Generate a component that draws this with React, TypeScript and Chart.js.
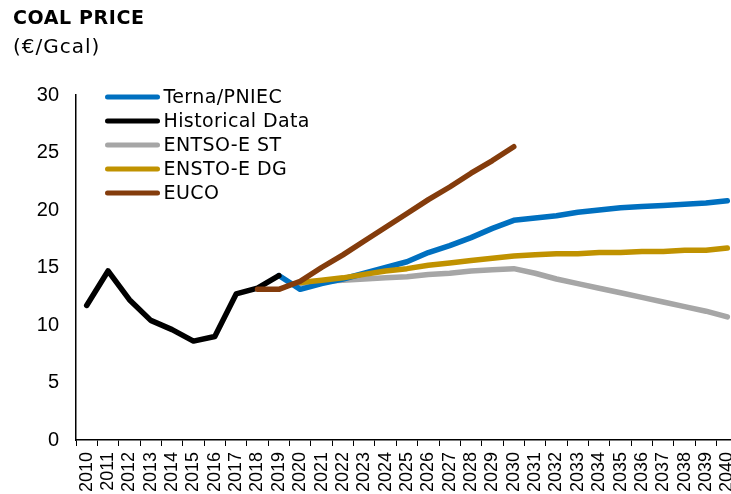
import React, { useEffect, useRef } from "react";
import { Chart, registerables } from "chart.js";

Chart.register(...registerables);

// Years on the category axis
const years = [
  "2010", "2011", "2012", "2013", "2014", "2015", "2016", "2017", "2018", "2019",
  "2020", "2021", "2022", "2023", "2024", "2025", "2026", "2027", "2028", "2029",
  "2030", "2031", "2032", "2033", "2034", "2035", "2036", "2037", "2038", "2039",
  "2040",
];

// Coal price series, €/Gcal (null = no value for that year)
const historical = [11.7, 14.7, 12.2, 10.4, 9.6, 8.6, 9.0, 12.7, 13.2, 14.3,
  null, null, null, null, null, null, null, null, null, null,
  null, null, null, null, null, null, null, null, null, null, null];

const ternaPniec = [null, null, null, null, null, null, null, null, null, 14.3,
  13.1, 13.6, 14.0, 14.5, 15.0, 15.5, 16.3, 16.9, 17.6, 18.4,
  19.1, 19.3, 19.5, 19.8, 20.0, 20.2, 20.3, 20.4, 20.5, 20.6, 20.8];

const entsoeSt = [null, null, null, null, null, null, null, null, null, null,
  13.6, 13.8, 13.9, 14.0, 14.1, 14.2, 14.4, 14.5, 14.7, 14.8,
  14.9, 14.5, 14.0, 13.6, 13.2, 12.8, 12.4, 12.0, 11.6, 11.2, 10.7];

const enstoeDg = [null, null, null, null, null, null, null, null, null, null,
  13.7, 13.9, 14.1, 14.4, 14.7, 14.9, 15.2, 15.4, 15.6, 15.8,
  16.0, 16.1, 16.2, 16.2, 16.3, 16.3, 16.4, 16.4, 16.5, 16.5, 16.7];

const euco = [null, null, null, null, null, null, null, null, 13.1, 13.1,
  13.8, 15.0, 16.1, 17.3, 18.5, 19.7, 20.9, 22.0, 23.2, 24.3,
  25.5, null, null, null, null, null, null, null, null, null, null];

const yTicks = [0, 5, 10, 15, 20, 25, 30];

const FONT = "'DejaVu Sans', sans-serif";
const TICK_FONT = "'Liberation Sans', Arial, sans-serif";

// Legend drawn inside the plot area, top-left, in dataset order
const insideLegend = {
  id: "insideLegend",
  afterDatasetsDraw(chart: any) {
    const { ctx, chartArea } = chart;
    const x0 = chartArea.left + 31.5;
    const x1 = chartArea.left + 81.5;
    ctx.save();
    ctx.font = `19px ${FONT}`;
    (ctx as any).letterSpacing = "0.4px";
    ctx.textBaseline = "middle";
    ctx.textAlign = "left";
    chart.data.datasets.forEach((ds: any, i: number) => {
      const y = chartArea.top + 2 + i * 24;
      ctx.strokeStyle = ds.borderColor;
      ctx.lineWidth = 5;
      ctx.lineCap = "round";
      ctx.beginPath();
      ctx.moveTo(x0, y);
      ctx.lineTo(x1, y);
      ctx.stroke();
      ctx.fillStyle = "#000";
      ctx.fillText(ds.label, x1 + 6, y + 1);
    });
    ctx.restore();
  },
};

export default function App() {
  const canvasRef = useRef<HTMLCanvasElement | null>(null);

  useEffect(() => {
    const canvas = canvasRef.current;
    if (!canvas) return;
    const line = (label: string, data: (number | null)[], color: string, order: number) => ({
      label,
      data,
      borderColor: color,
      backgroundColor: color,
      borderWidth: 5.5,
      borderCapStyle: "round",
      borderJoinStyle: "round",
      pointRadius: 0,
      pointHoverRadius: 0,
      tension: 0,
      fill: false,
      order,
    });
    const chart = new Chart(canvas, {
      type: "line",
      data: {
        labels: years,
        datasets: [
          line("Terna/PNIEC", ternaPniec, "#0070C0", 3),
          line("Historical Data", historical, "#000000", 2),
          line("ENTSO-E ST", entsoeSt, "#A6A6A6", 4),
          line("ENSTO-E DG", enstoeDg, "#C09200", 1),
          line("EUCO", euco, "#843C0C", 0),
        ] as any,
      },
      options: {
        responsive: false,
        animation: false,
        layout: { padding: { top: 95, right: 12, left: 0, bottom: 0 } },
        plugins: {
          legend: { display: false },
          tooltip: { enabled: false },
          title: { display: false },
        },
        scales: {
          x: {
            offset: true,
            grid: {
              display: true,
              drawOnChartArea: false,
              drawTicks: true,
              tickLength: 6,
              tickColor: "#000",
              offset: true,
            },
            border: { display: true, color: "#000", width: 1.5 },
            ticks: {
              color: "#000",
              font: { family: TICK_FONT, size: 18 },
              minRotation: 90,
              maxRotation: 90,
              autoSkip: false,
              padding: 6,
            },
            afterFit(scale: any) {
              scale.height = 54;
              scale.paddingLeft = 0;
              scale.paddingRight = 0;
            },
          },
          y: {
            min: 0,
            max: 30,
            afterBuildTicks(scale: any) {
              scale.ticks = yTicks.map((v) => ({ value: v }));
            },
            grid: { display: true, drawOnChartArea: false, drawTicks: false },
            border: { display: true, color: "#000", width: 1.5 },
            ticks: {
              color: "#000",
              font: { family: TICK_FONT, size: 20 },
              padding: 17,
            },
            afterFit(scale: any) {
              scale.width = 76;
            },
          },
        },
      },
      plugins: [insideLegend],
    });
    return () => chart.destroy();
  }, []);

  return (
    <div
      style={{
        position: "fixed",
        left: 0,
        top: 0,
        width: 731,
        height: 494,
        overflow: "hidden",
        background: "#fff",
      }}
    >
      <canvas
        ref={canvasRef}
        width={750}
        height={494}
        style={{ position: "absolute", left: 0, top: 0, width: 750, height: 494, display: "block" }}
      />
      <div
        style={{
          position: "absolute",
          left: 13,
          top: 3,
          fontFamily: FONT,
          fontWeight: "bold",
          fontSize: 19,
          letterSpacing: "0.6px",
          lineHeight: "28px",
          color: "#000",
          whiteSpace: "nowrap",
        }}
      >
        COAL PRICE
      </div>
      <div
        style={{
          position: "absolute",
          left: 13,
          top: 32,
          fontFamily: FONT,
          fontSize: 20,
          letterSpacing: "1px",
          lineHeight: "28px",
          color: "#000",
          whiteSpace: "nowrap",
        }}
      >
        (€/Gcal)
      </div>
    </div>
  );
}
